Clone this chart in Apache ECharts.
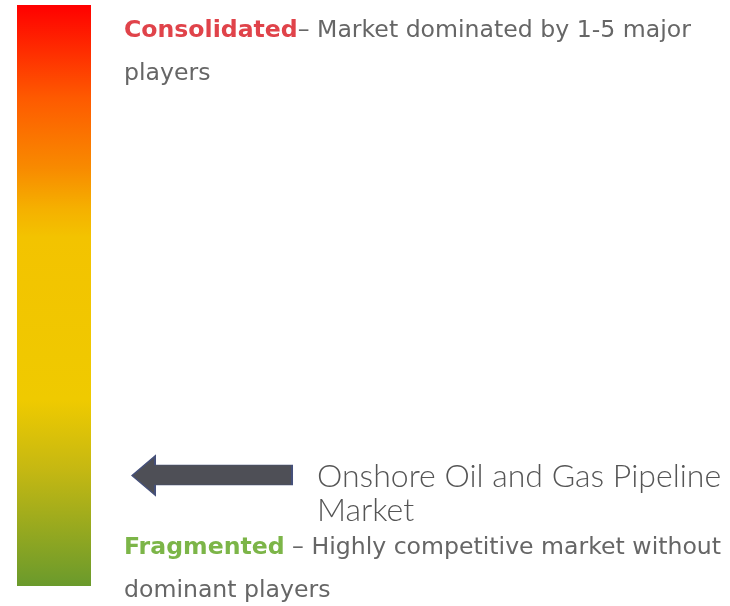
<!DOCTYPE html>
<html>
<head>
<meta charset="utf-8">
<script src="https://cdn.jsdelivr.net/npm/echarts@6/dist/echarts.min.js"></script>
<style>
  html, body { margin: 0; padding: 0; background: #fff; }
  #chart { width: 730px; height: 606px; }
</style>
</head>
<body>
<div id="chart"></div>
<script>
// scale: 0 = fragmented, 100 = consolidated
const scaleName = ['Market concentration'];
const scaleValue = [100];
const markets = ['Onshore Oil and Gas Pipeline\nMarket'];
const marketPosition = [19];
const topLabel = ['Consolidated', '– Market dominated by 1-5 major', 'players'];
const bottomLabel = ['Fragmented', ' – Highly competitive market without', 'dominant players'];

const chart = echarts.init(document.getElementById('chart'));

const gradient = new echarts.graphic.LinearGradient(0, 0, 0, 1, [
  { offset: 0, color: '#ff0000' },
  { offset: 0.16, color: '#fe5a00' },
  { offset: 0.28, color: '#f88a00' },
  { offset: 0.35, color: '#f5b000' },
  { offset: 0.4, color: '#f3c300' },
  { offset: 0.68, color: '#efca00' },
  { offset: 0.8, color: '#c5b812' },
  { offset: 1, color: '#6a9a2c' }
]);

const arrowPath = 'path://M0 19.5 L23 0 L23 9 L160 9 L160 29 L23 29 L23 39 Z';
const bodyFont = '"DejaVu Sans", sans-serif';
const fs = 23.6;

const option = {
  backgroundColor: '#fff',
  animation: false,
  grid: [
    { left: 17, width: 74, top: 5, height: 581 },
    { left: 132, width: 160, top: 5, height: 581 }
  ],
  xAxis: [
    { type: 'category', gridIndex: 0, data: scaleName, show: false },
    { type: 'category', gridIndex: 1, data: markets, show: false }
  ],
  yAxis: [
    { type: 'value', gridIndex: 0, min: 0, max: 100, show: false },
    { type: 'value', gridIndex: 1, min: 0, max: 100, show: false }
  ],
  series: [
    {
      type: 'bar',
      xAxisIndex: 0,
      yAxisIndex: 0,
      data: scaleValue,
      barWidth: '100%',
      itemStyle: { color: gradient },
      silent: true
    },
    {
      type: 'scatter',
      xAxisIndex: 1,
      yAxisIndex: 1,
      data: marketPosition,
      symbol: arrowPath,
      symbolSize: [160, 39],
      itemStyle: { color: '#4e4f56', opacity: 1, borderColor: '#45507a', borderWidth: 1 },
      label: {
        show: true,
        position: 'right',
        distance: 24,
        offset: [0, 18],
        formatter: (p) => p.name,
        fontFamily: 'Lato, sans-serif',
        fontWeight: 300,
        fontSize: 32,
        lineHeight: 34,
        color: '#555',
        align: 'left'
      },
      silent: true
    }
  ],
  graphic: [
    {
      type: 'text',
      left: 124,
      top: 19,
      style: {
        text: '{a|' + topLabel[0] + '}{b|' + topLabel[1] + '}',
        rich: {
          a: { fontFamily: bodyFont, fontSize: fs, fontWeight: 'bold', fill: '#e0434a' },
          b: { fontFamily: bodyFont, fontSize: fs, fill: '#666' }
        }
      }
    },
    {
      type: 'text',
      left: 124,
      top: 62,
      style: { text: topLabel[2], font: fs + 'px ' + bodyFont, fill: '#666' }
    },
    {
      type: 'text',
      left: 124,
      top: 536,
      style: {
        text: '{a|' + bottomLabel[0] + '}{b|' + bottomLabel[1] + '}',
        rich: {
          a: { fontFamily: bodyFont, fontSize: fs, fontWeight: 'bold', fill: '#7cb548' },
          b: { fontFamily: bodyFont, fontSize: fs, fill: '#666' }
        }
      }
    },
    {
      type: 'text',
      left: 124,
      top: 579,
      style: { text: bottomLabel[2], font: fs + 'px ' + bodyFont, fill: '#666' }
    }
  ]
};

chart.setOption(option);
</script>
</body>
</html>
